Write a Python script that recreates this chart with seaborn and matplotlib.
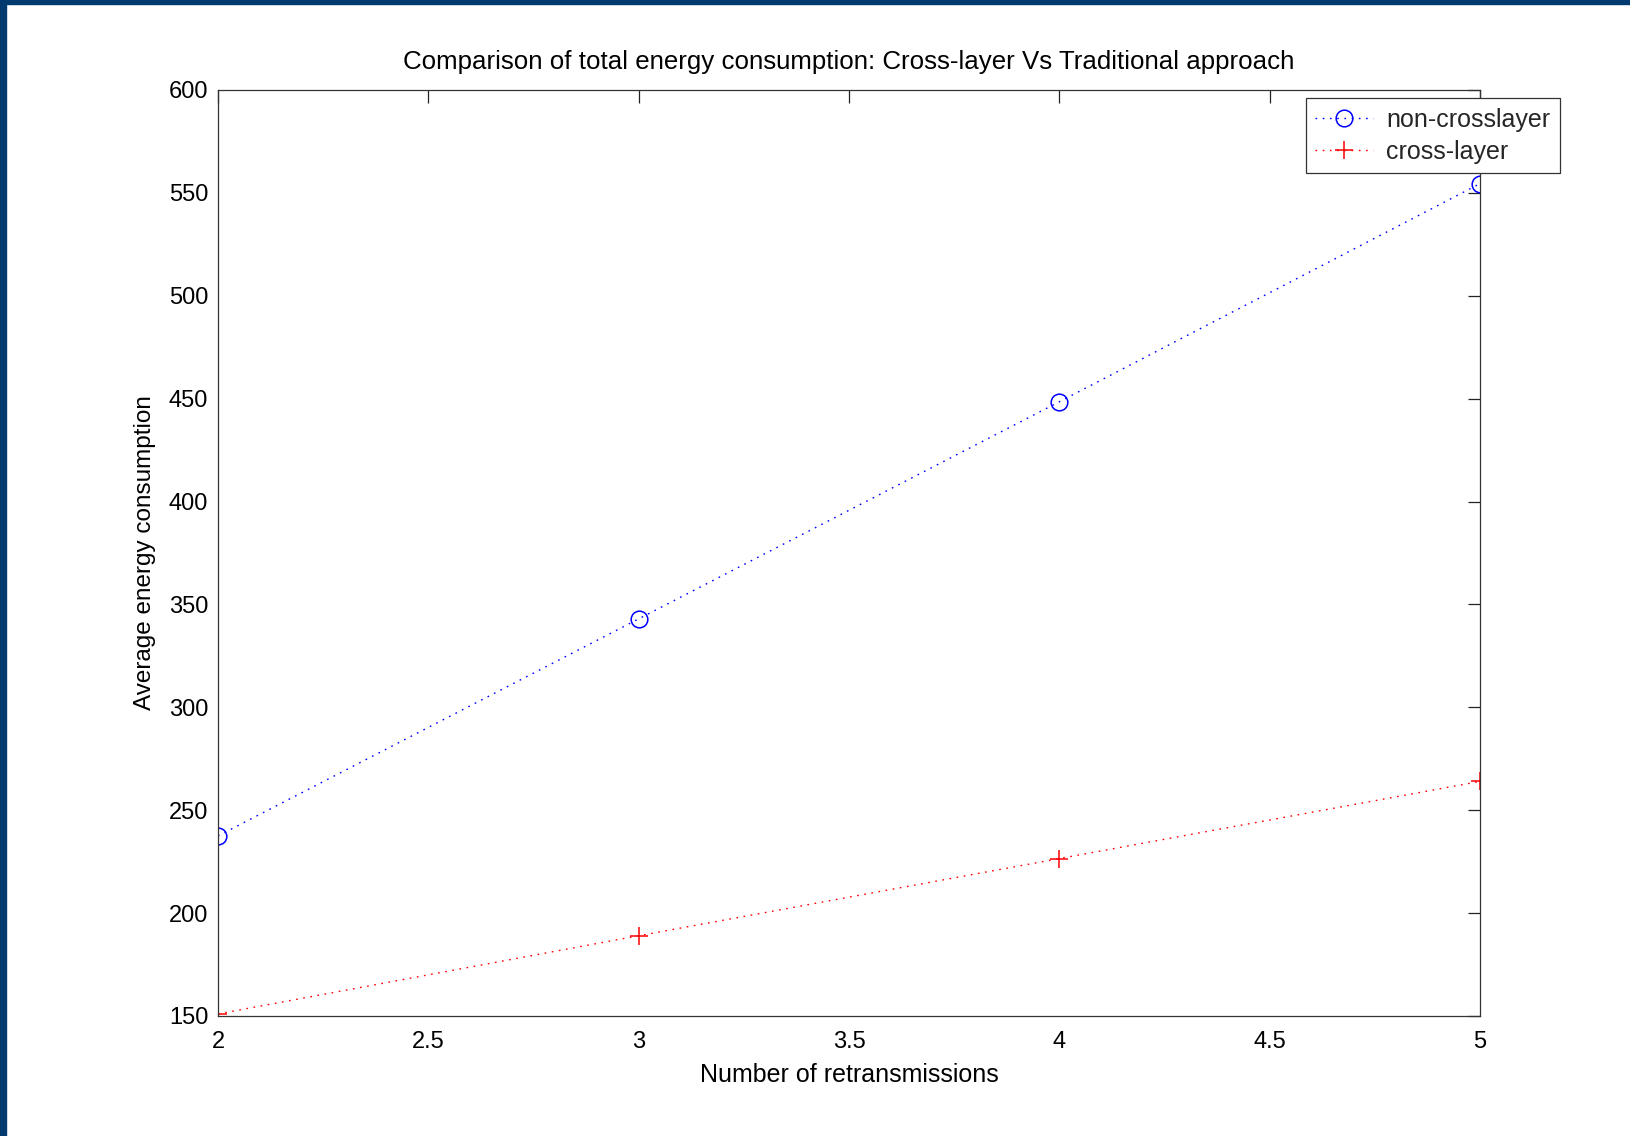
import numpy as np
import pandas as pd
import matplotlib
matplotlib.use("Agg")
import matplotlib.pyplot as plt
from matplotlib.patches import Rectangle
import seaborn as sns

# Datos
retransmisiones = [2, 3, 4, 5]
non_crosslayer = [237.5, 343, 448.5, 554.5]
cross_layer = [151, 189, 226.5, 264]

x_ticks = [2, 2.5, 3, 3.5, 4, 4.5, 5]
y_ticks = [150, 200, 250, 300, 350, 400, 450, 500, 550, 600]

sns.set_theme(style="white")
plt.rcParams['font.family'] = ['Liberation Sans', 'DejaVu Sans']

W, H = 1631, 1136
fig = plt.figure(figsize=(W / 100, H / 100), dpi=100)
ax = fig.add_axes([218 / W, 120 / H, (1480 - 218) / W, (1016 - 90) / H])

fs_tick = 17
fs_txt = 18
dots = (0, (1.2, 4))

sns.lineplot(x=retransmisiones, y=non_crosslayer, ax=ax, color='blue', linestyle=dots, linewidth=1,
             marker='o', markersize=12, markerfacecolor='none', markeredgecolor='blue',
             markeredgewidth=1.1, label='non-crosslayer')
sns.lineplot(x=retransmisiones, y=cross_layer, ax=ax, color='red', linestyle=dots, linewidth=1,
             marker='+', markersize=13, markeredgecolor='red', markeredgewidth=1.1,
             label='cross-layer')

ax.set_xlim(2, 5)
ax.set_ylim(150, 600)
ax.set_xticks(x_ticks)
ax.set_xticklabels(['2', '2.5', '3', '3.5', '4', '4.5', '5'])
ax.set_yticks(y_ticks)

ax.tick_params(direction='in', top=True, right=True, length=9, width=0.9,
               colors='#222222', labelsize=fs_tick, labelcolor='black')
ax.tick_params(axis='x', pad=11)
ax.tick_params(axis='y', pad=7)
for s in ax.spines.values():
    s.set_color('#333333')
    s.set_linewidth(0.9)

ax.set_title('Comparison of total energy consumption: Cross-layer Vs Traditional approach',
             fontsize=18.6, pad=15, color='black')
ax.set_xlabel('Number of retransmissions', fontsize=fs_txt, labelpad=7, color='black')
ax.set_ylabel('Average energy consumption', fontsize=17.5, labelpad=9, color='black')

leg = ax.legend(loc='upper right', bbox_to_anchor=(1560 / W, 1 - 98 / H),
                bbox_transform=fig.transFigure, borderaxespad=0, fontsize=fs_txt,
                fancybox=False, framealpha=1, edgecolor='#333333',
                handlelength=2.3, handletextpad=0.55, borderpad=0.38, labelspacing=0.32)
leg.get_frame().set_linewidth(0.9)

# Borde azul (izquierda y arriba)
borde = '#003a6e'
fig.add_artist(Rectangle((0, 0), 6 / W, 1, transform=fig.transFigure, color=borde, zorder=10))
fig.add_artist(Rectangle((0, 1 - 4 / H), 1, 4 / H, transform=fig.transFigure, color=borde, zorder=10))

fig.savefig('out.png', dpi=100)
